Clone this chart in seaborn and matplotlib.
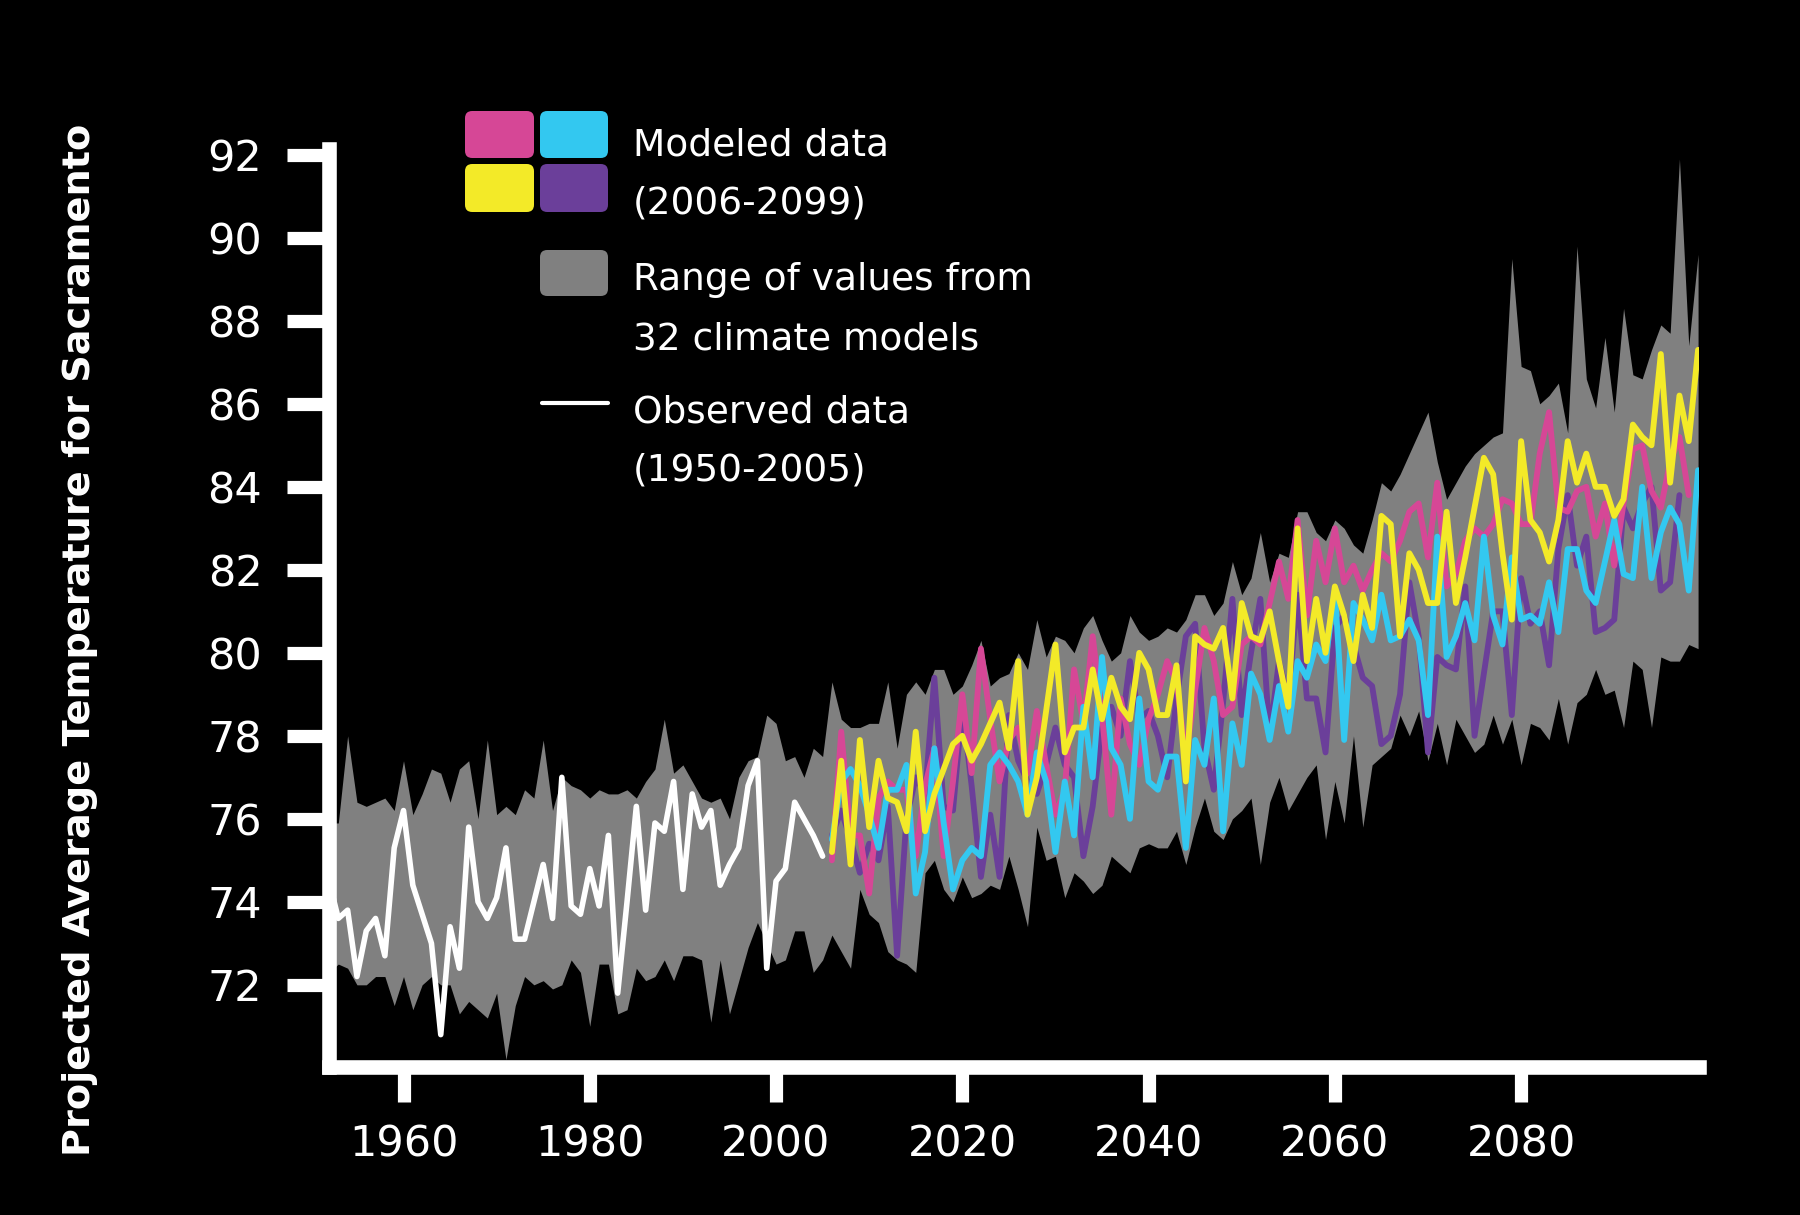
import numpy as np
import pandas as pd
import seaborn as sns
import matplotlib.pyplot as plt
from matplotlib import font_manager
from matplotlib.patches import FancyBboxPatch
from matplotlib.lines import Line2D

# Observed annual average temperature, 1952-2005 (left edge of chart cuts 1950-51)
obs_start = 1952
observed = [
    74.5, 73.6, 73.8, 72.2, 73.3, 73.6, 72.7, 75.3, 76.2, 74.4,   # 1952-1961
    73.7, 73.0, 70.8, 73.4, 72.4, 75.8, 74.0, 73.6, 74.1, 75.3,   # 1962-1971
    73.1, 73.1, 74.0, 74.9, 73.6, 77.0, 73.9, 73.7, 74.8, 73.9,   # 1972-1981
    75.6, 71.8, 74.0, 76.3, 73.8, 75.9, 75.7, 76.9, 74.3, 76.6,   # 1982-1991
    75.8, 76.2, 74.4, 74.9, 75.3, 76.8, 77.4, 72.4, 74.5, 74.8,   # 1992-2001
    76.4, 76.0, 75.6, 75.1,                                       # 2002-2005
]

# Range of the 32 climate models (grey band), 1952-2099
band_start = 1952
band_upper = [
    75.9, 75.9, 78.0, 76.4, 76.3, 76.4, 76.5, 76.2, 77.4, 76.1,   # 1952
    76.6, 77.2, 77.1, 76.4, 77.2, 77.4, 76.0, 77.9, 76.1, 76.3,   # 1962
    76.1, 76.7, 76.5, 77.9, 76.2, 77.0, 76.8, 76.7, 76.5, 76.7,   # 1972
    76.6, 76.6, 76.7, 76.5, 76.9, 77.2, 78.4, 77.1, 77.3, 76.9,   # 1982
    76.5, 76.4, 76.5, 76.0, 77.0, 77.4, 77.5, 78.5, 78.3, 77.4,   # 1992
    77.5, 77.0, 77.7, 77.5,                                       # 2002
    79.3, 78.4, 78.2, 78.2, 78.3, 78.3, 79.3, 77.7, 79.0, 79.3,   # 2006
    79.0, 79.6, 79.6, 79.0, 79.2, 79.7, 80.3, 79.2, 79.4, 79.5,   # 2016
    80.0, 79.6, 80.8, 79.9, 80.4, 80.3, 80.0, 80.6, 80.9, 80.3,   # 2026
    79.8, 80.0, 80.9, 80.5, 80.3, 80.4, 80.6, 80.5, 80.8, 81.4,   # 2036
    81.4, 80.9, 81.2, 82.2, 81.4, 81.8, 82.9, 81.7, 82.4, 82.3,   # 2046
    83.4, 83.4, 82.9, 82.7, 83.2, 83.0, 82.6, 82.4, 83.2, 84.1,   # 2056
    83.9, 84.3, 84.8, 85.3, 85.8, 84.6, 83.7, 84.1, 84.5, 84.8,   # 2066
    85.0, 85.2, 85.3, 89.5, 86.9, 86.8, 86.0, 86.2, 86.5, 85.3,   # 2076
    89.8, 86.6, 85.9, 87.6, 85.8, 88.3, 86.7, 86.6, 87.3, 87.9,   # 2086
    87.7, 91.9, 87.4, 89.6,                                       # 2096
]
band_lower = [
    72.3, 72.5, 72.4, 72.0, 72.0, 72.2, 72.2, 71.5, 72.2, 71.4,   # 1952
    72.0, 72.2, 72.0, 72.0, 71.3, 71.6, 71.4, 71.2, 71.8, 70.2,   # 1962
    71.5, 72.2, 72.0, 72.1, 71.9, 72.0, 72.6, 72.3, 71.0, 72.5,   # 1972
    72.5, 71.3, 71.4, 72.4, 72.1, 72.2, 72.6, 72.1, 72.7, 72.7,   # 1982
    72.6, 71.1, 72.6, 71.3, 72.1, 72.9, 73.5, 73.0, 72.5, 72.6,   # 1992
    73.3, 73.3, 72.3, 72.6,                                       # 2002
    73.2, 72.8, 72.4, 74.3, 73.7, 73.5, 72.8, 72.6, 72.5, 72.3,   # 2006
    74.7, 75.0, 74.3, 74.0, 74.6, 74.1, 74.2, 74.4, 74.3, 75.1,   # 2016
    74.3, 73.4, 75.8, 75.0, 75.1, 74.1, 74.7, 74.5, 74.2, 74.4,   # 2026
    75.1, 74.9, 74.7, 75.3, 75.4, 75.3, 75.3, 75.7, 74.9, 75.8,   # 2036
    76.5, 75.7, 75.5, 76.0, 76.2, 76.5, 74.9, 76.4, 77.0, 76.2,   # 2046
    76.6, 77.0, 77.3, 75.5, 76.9, 75.9, 78.0, 75.8, 77.3, 77.5,   # 2056
    77.7, 78.5, 78.0, 78.6, 77.4, 78.3, 77.3, 78.4, 78.0, 77.6,   # 2066
    77.8, 78.5, 77.8, 78.4, 77.3, 78.3, 78.2, 77.9, 78.9, 77.8,   # 2076
    78.8, 79.0, 79.6, 79.0, 79.1, 78.2, 79.8, 79.6, 78.2, 79.9,   # 2086
    79.8, 79.8, 80.2, 80.1,                                       # 2096
]

# Four highlighted model runs, starting 2006
model_start = 2006
model_pink = [
    75.0, 78.1, 75.6, 75.6, 74.2, 76.5, 76.9, 76.7, 76.7, 75.1,
    76.8, 77.7, 75.1, 76.9, 79.0, 77.1, 80.1, 78.4, 76.9, 77.9,
    78.2, 77.1, 78.6, 77.3, 76.1, 76.7, 79.6, 78.3, 80.4, 78.5,
    76.1, 78.9, 77.8, 77.3, 78.4, 79.0, 79.8, 79.3, 77.5, 79.1,
    80.6, 79.8, 78.5, 78.7, 80.2, 80.4, 80.2, 81.2, 82.2, 81.3,
    83.2, 80.9, 82.7, 81.7, 83.0, 81.7, 82.1, 81.5, 82.0, 82.4,
    82.2, 82.7, 83.4, 83.6, 82.3, 84.1, 81.6, 81.9, 82.7, 83.0,
    82.8, 83.1, 83.7, 83.6, 83.1, 83.1, 84.8, 85.8, 83.5, 83.4,
    83.9, 84.0, 82.8, 83.6, 82.1, 83.6, 84.9, 85.0, 83.9, 83.5,
    84.6, 85.2, 83.8,
]
model_cyan = [
    75.5, 76.9, 77.2, 76.8, 76.1, 75.3, 76.7, 76.7, 77.3, 74.2,
    75.2, 77.7, 75.9, 74.3, 75.0, 75.3, 75.1, 77.3, 77.6, 77.3,
    76.9, 76.1, 77.6, 76.9, 75.2, 76.9, 75.6, 78.7, 77.0, 79.9,
    77.7, 77.3, 76.0, 78.9, 76.9, 76.7, 77.5, 77.5, 75.3, 77.9,
    77.3, 78.9, 75.7, 78.3, 77.3, 79.5, 79.0, 77.9, 79.2, 78.1,
    79.8, 79.4, 80.2, 79.8, 81.5, 77.9, 81.2, 80.8, 80.3, 81.4,
    80.3, 80.4, 80.8, 80.3, 78.5, 82.8, 79.9, 80.4, 81.2, 80.3,
    82.8, 80.9, 80.2, 82.3, 80.8, 80.9, 80.7, 81.7, 80.5, 82.5,
    82.5, 81.5, 81.2, 82.2, 83.2, 81.9, 81.8, 84.0, 81.8, 82.9,
    83.5, 83.1, 81.5, 84.4,
]
model_yellow = [
    75.2, 77.4, 74.9, 77.9, 75.8, 77.4, 76.5, 76.4, 75.7, 78.1,
    75.7, 76.6, 77.2, 77.8, 78.0, 77.4, 77.8, 78.3, 78.8, 77.7,
    79.8, 76.1, 77.0, 78.6, 80.2, 77.6, 78.2, 78.2, 79.6, 78.4,
    79.4, 78.7, 78.4, 80.0, 79.6, 78.5, 78.5, 79.7, 76.9, 80.4,
    80.2, 80.1, 80.6, 78.9, 81.2, 80.4, 80.3, 81.0, 79.8, 78.7,
    83.0, 79.8, 81.3, 80.0, 81.6, 80.9, 79.8, 81.4, 80.6, 83.3,
    83.1, 80.4, 82.4, 82.0, 81.2, 81.2, 83.4, 81.2, 82.3, 83.5,
    84.7, 84.3, 82.4, 80.8, 85.1, 83.2, 82.9, 82.2, 83.2, 85.1,
    84.1, 84.8, 84.0, 84.0, 83.3, 83.7, 85.5, 85.2, 85.0, 87.2,
    84.1, 86.2, 85.1, 87.3,
]
model_purple = [
    75.6, 76.2, 75.5, 74.7, 75.4, 75.0, 76.3, 72.7, 76.0, 77.0,
    76.6, 79.4, 76.3, 76.2, 78.7, 76.8, 74.6, 76.1, 74.6, 78.5,
    77.4, 76.9, 76.6, 77.3, 78.2, 77.3, 77.0, 75.1, 76.3, 78.2,
    78.7, 78.0, 79.8, 78.4, 78.6, 78.0, 77.0, 78.9, 80.4, 80.7,
    77.7, 76.7, 78.8, 81.3, 78.5, 80.0, 81.3, 78.0, 79.8, 78.9,
    81.4, 78.9, 78.9, 77.6, 80.6, 80.9, 80.2, 79.4, 79.2, 77.8,
    78.0, 79.0, 81.7, 80.4, 77.6, 79.9, 79.7, 79.6, 81.6, 78.0,
    79.5, 81.0, 81.0, 78.5, 81.8, 80.7, 81.0, 79.7, 82.5, 83.8,
    82.1, 82.8, 80.5, 80.6, 80.8, 83.5, 83.0, 83.6, 84.0, 81.5,
    81.7, 83.8,
]

y_ticks = [72, 74, 76, 78, 80, 82, 84, 86, 88, 90, 92]
x_ticks = [1960, 1980, 2000, 2020, 2040, 2060, 2080]

PINK = "#D64796"
CYAN = "#33C8F0"
YELLOW = "#F3EA28"
PURPLE = "#6B3F9A"
GREY = "#808080"

W, H = 1800, 1215

sns.set_style("ticks", {"axes.facecolor": "black", "figure.facecolor": "black"})

# condensed font if there is one, otherwise DejaVu with smaller sizes
installed = {f.name for f in font_manager.fontManager.ttflist}
if "Liberation Sans Narrow" in installed:
    FONT = "Liberation Sans Narrow"
    tick_size, leg_size, label_size = 37, 34, 38
else:
    FONT = "DejaVu Sans"
    tick_size, leg_size, label_size = 31, 27, 27.5
plt.rcParams["font.family"] = [FONT, "DejaVu Sans"]


def fx(px):
    return px / W


def fy(py):
    return 1 - py / H


def build_models():
    frames = []
    for name, vals in [("purple", model_purple), ("pink", model_pink),
                       ("cyan", model_cyan), ("yellow", model_yellow)]:
        frames.append(pd.DataFrame({
            "year": np.arange(model_start, model_start + len(vals)),
            "temp": vals,
            "model": name,
        }))
    return pd.concat(frames, ignore_index=True)


fig = plt.figure(figsize=(W / 100, H / 100), dpi=100)
ax = fig.add_axes([fx(329), fy(1067), fx(1699) - fx(329), fy(149) - fy(1067)])

band_years = np.arange(band_start, band_start + len(band_upper))
ax.fill_between(band_years, band_lower, band_upper, color=GREY, lw=0, zorder=1)

models = build_models()
sns.lineplot(data=models, x="year", y="temp", hue="model",
             hue_order=["purple", "pink", "cyan", "yellow"],
             palette={"purple": PURPLE, "pink": PINK, "cyan": CYAN, "yellow": YELLOW},
             estimator=None, sort=False, legend=False, lw=4.2, ax=ax, zorder=3)

obs_years = np.arange(obs_start, obs_start + len(observed))
sns.lineplot(x=obs_years, y=observed, color="white", lw=4.0, ax=ax, zorder=4)

ax.set_xlim(1952, 2099.1)
ax.set_ylim(70.02, 92.14)
ax.set_xticks(x_ticks)
ax.set_yticks(y_ticks)
ax.set_xlabel("")
ax.set_ylabel("")

for side in ["top", "right"]:
    ax.spines[side].set_visible(False)
for side in ["left", "bottom"]:
    ax.spines[side].set_color("white")
    ax.spines[side].set_linewidth(10.5)
    ax.spines[side].set_capstyle("projecting")
    ax.spines[side].set_zorder(5)

ax.tick_params(axis="both", direction="out", color="white", width=9.5,
               labelcolor="white", labelsize=tick_size,
               bottom=True, left=True)
ax.tick_params(axis="y", length=30, pad=18)
ax.tick_params(axis="x", length=25, pad=16)

fig.text(fx(80), fy(640), "Projected Average Temperature for Sacramento",
         rotation=90, ha="center", va="center", color="white",
         fontsize=label_size, fontweight="bold")

# hand-built legend
def swatch(x0, y0, x1, y1, color):
    fig.patches.append(FancyBboxPatch(
        (fx(x0), fy(y1)), fx(x1) - fx(x0), fy(y0) - fy(y1),
        boxstyle="round,pad=0,rounding_size=0.004", mutation_aspect=W / H,
        transform=fig.transFigure, facecolor=color, edgecolor="none"))


swatch(465, 111, 534, 158, PINK)
swatch(540, 111, 608, 158, CYAN)
swatch(465, 164, 534, 212, YELLOW)
swatch(540, 164, 608, 212, PURPLE)
swatch(540, 250, 608, 296, GREY)
fig.lines.append(Line2D([fx(542), fx(608)], [fy(403), fy(403)],
                        transform=fig.transFigure, color="white", lw=3))

legend_lines = [
    ("Modeled data", 155), ("(2006-2099)", 213),
    ("Range of values from", 290), ("32 climate models", 350),
    ("Observed data", 423), ("(1950-2005)", 480),
]
for txt, base in legend_lines:
    fig.text(fx(633), fy(base), txt, ha="left", va="baseline",
             color="white", fontsize=leg_size)

fig.savefig("out.png", dpi=100, facecolor="black")
